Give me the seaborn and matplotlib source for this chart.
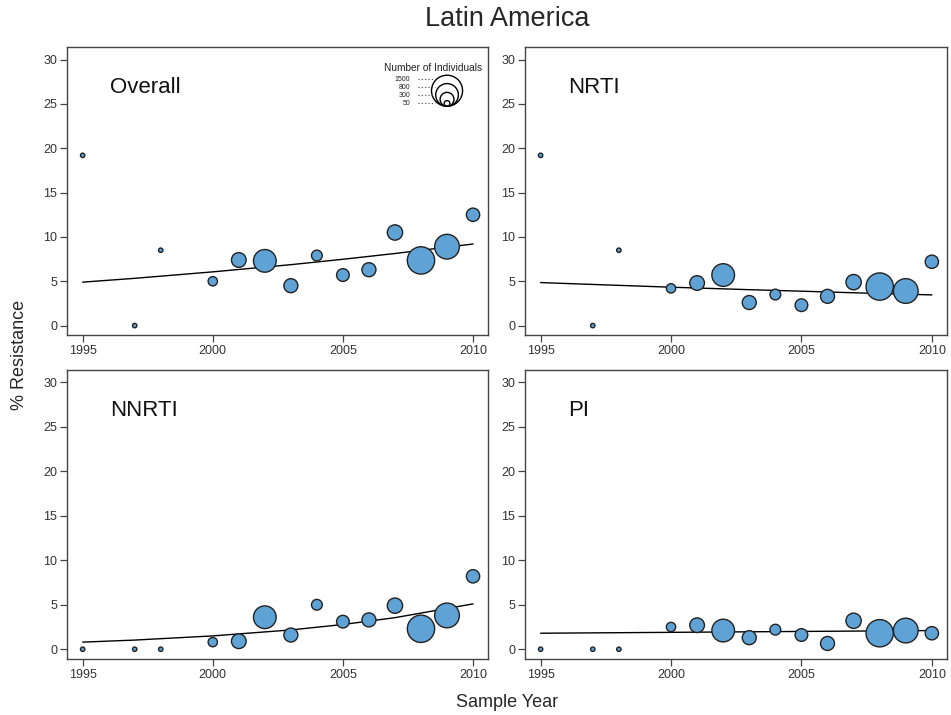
import pandas as pd
import matplotlib.pyplot as plt
import matplotlib.transforms as mtransforms
import seaborn as sns

years = [1995, 1997, 1998, 2000, 2001, 2002, 2003, 2004, 2005, 2006, 2007, 2008, 2009, 2010]
n_individuals = [30, 30, 30, 135, 335, 800, 305, 180, 250, 305, 365, 1160, 950, 275]
overall = [19.2, 0.0, 8.5, 5.0, 7.4, 7.3, 4.5, 7.9, 5.7, 6.3, 10.5, 7.35, 8.9, 12.5]
nrti = [19.2, 0.0, 8.5, 4.2, 4.8, 5.7, 2.6, 3.5, 2.3, 3.3, 4.9, 4.4, 3.9, 7.2]
nnrti = [0.0, 0.0, 0.0, 0.8, 0.9, 3.6, 1.6, 5.0, 3.1, 3.3, 4.9, 2.3, 3.8, 8.2]
pi = [0.0, 0.0, 0.0, 2.5, 2.7, 2.1, 1.3, 2.2, 1.6, 0.65, 3.2, 1.8, 2.1, 1.8]

trend_years = [1995, 1997, 2000, 2003, 2005, 2007, 2010]
overall_trend = [4.9, 5.33, 6.06, 6.87, 7.48, 8.13, 9.2]
nrti_trend = [4.85, 4.64, 4.33, 4.05, 3.88, 3.70, 3.46]
nnrti_trend = [0.8, 1.03, 1.50, 2.17, 2.78, 3.55, 5.1]
pi_trend = [1.8, 1.84, 1.9, 1.96, 2.0, 2.04, 2.1]

legend_sizes = [1500, 800, 300, 50]
legend_labels = ["1500", "800", "300", "50"]

panels = [("Overall", overall, overall_trend),
          ("NRTI", nrti, nrti_trend),
          ("NNRTI", nnrti, nnrti_trend),
          ("PI", pi, pi_trend)]

sns.set_style("ticks")
plt.rcParams["font.family"] = ["Liberation Sans", "DejaVu Sans"]

fig = plt.figure(figsize=(9.51, 7.15), dpi=100)
positions = [
    [0.0705, 0.531, 0.4425, 0.403],
    [0.552, 0.531, 0.4435, 0.403],
    [0.0705, 0.0783, 0.4425, 0.4042],
    [0.552, 0.0783, 0.4435, 0.4042],
]

fill = "#5fa2d6"
edge = "#222222"
spine_col = "#444444"
size_scale = 1 / 3.0  # points^2 per individual

for (name, vals, trend), pos in zip(panels, positions):
    ax = fig.add_axes(pos)
    df = pd.DataFrame({"year": years, "pct": vals, "n": n_individuals})
    tdf = pd.DataFrame({"year": trend_years, "pct": trend})
    sns.lineplot(data=tdf, x="year", y="pct", color="black", lw=1.0, ax=ax, zorder=2)
    sns.scatterplot(data=df, x="year", y="pct", size="n",
                    sizes=(0, 1500 * size_scale), size_norm=(0, 1500),
                    color=fill, edgecolor=edge, linewidth=1.0, alpha=1.0,
                    legend=False, ax=ax, zorder=3)
    ax.set_xlim(1994.4, 2010.57)
    ax.set_ylim(-1.1, 31.4)
    ax.set_xticks([1995, 2000, 2005, 2010])
    ax.set_yticks([0, 5, 10, 15, 20, 25, 30])
    ax.set_xlabel("")
    ax.set_ylabel("")
    for s in ax.spines.values():
        s.set_visible(True)
        s.set_color(spine_col)
        s.set_linewidth(1.0)
    ax.tick_params(direction="out", length=5, width=0.9, color=spine_col,
                   labelsize=9, labelcolor="#333333", pad=2)
    ax.text(0.102, 0.861, name, transform=ax.transAxes, fontsize=16,
            ha="left", va="center", color="#111111")

    if name == "Overall":
        cx, by = 0.903, 0.795
        for sz in legend_sizes:
            r_pt = (sz * size_scale) ** 0.5 / 2
            tr = ax.transAxes + mtransforms.ScaledTranslation(0, r_pt / 72, fig.dpi_scale_trans)
            ax.scatter([cx], [by], s=sz * size_scale, facecolor="none",
                       edgecolor="black", linewidth=1.0, transform=tr, clip_on=False)
        label_y = [0.889, 0.861, 0.833, 0.805]
        for lab, ly in zip(legend_labels, label_y):
            ax.text(0.815, ly, lab, transform=ax.transAxes, fontsize=5,
                    ha="right", va="center", color="#222222")
            ax.plot([0.833, 0.875], [ly, ly], transform=ax.transAxes,
                    color="#444444", lw=0.8, ls=(0, (1, 2)))
        ax.text(0.87, 0.927, "Number of Individuals", transform=ax.transAxes,
                fontsize=7.3, ha="center", va="center", color="#222222")

fig.text(0.533, 0.974, "Latin America", ha="center", va="center", fontsize=19.5)
fig.text(0.533, 0.017, "Sample Year", ha="center", va="center", fontsize=13)
fig.text(0.021, 0.503, "% Resistance", ha="center", va="center", fontsize=13,
         rotation=90)

fig.savefig("out.png", dpi=100)
plt.close(fig)
